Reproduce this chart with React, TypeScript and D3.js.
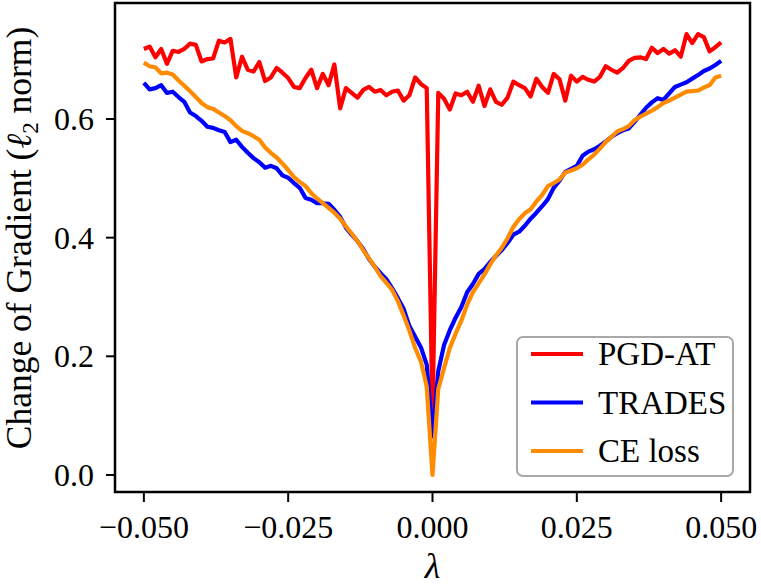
import * as d3 from 'd3';

// lambda grid: -0.050 .. 0.050, step 0.001 (101 points)
const lambdas: number[] = d3.range(101).map(i => +(-0.05 + i * 0.001).toFixed(3));

const pgdAT: number[] = [
  0.718, 0.722, 0.704, 0.718, 0.693, 0.715, 0.713, 0.718, 0.727, 0.725,
  0.697, 0.701, 0.702, 0.732, 0.729, 0.735, 0.670, 0.705, 0.683, 0.680,
  0.696, 0.664, 0.670, 0.686, 0.678, 0.669, 0.654, 0.652, 0.669, 0.683,
  0.652, 0.676, 0.657, 0.692, 0.618, 0.652, 0.644, 0.636, 0.649, 0.654,
  0.646, 0.649, 0.640, 0.646, 0.648, 0.631, 0.640, 0.670, 0.659, 0.652,
  0.100,
  0.644, 0.634, 0.616, 0.643, 0.640, 0.646, 0.629, 0.656, 0.622, 0.650,
  0.629, 0.624, 0.636, 0.663, 0.657, 0.652, 0.638, 0.668, 0.654, 0.644,
  0.676, 0.667, 0.631, 0.673, 0.663, 0.671, 0.666, 0.663, 0.671, 0.689,
  0.683, 0.678, 0.686, 0.698, 0.703, 0.704, 0.701, 0.720, 0.711, 0.718,
  0.710, 0.716, 0.705, 0.743, 0.728, 0.743, 0.738, 0.714, 0.721, 0.729
];

const trades: number[] = [
  0.661, 0.650, 0.652, 0.657, 0.644, 0.646, 0.637, 0.629, 0.611, 0.605,
  0.597, 0.587, 0.585, 0.581, 0.578, 0.561, 0.565, 0.553, 0.543, 0.534,
  0.527, 0.518, 0.521, 0.517, 0.505, 0.501, 0.492, 0.484, 0.467, 0.464,
  0.458, 0.458, 0.457, 0.447, 0.435, 0.417, 0.405, 0.394, 0.381, 0.364,
  0.351, 0.340, 0.330, 0.315, 0.298, 0.280, 0.251, 0.233, 0.215, 0.186,
  0.065,
  0.175, 0.219, 0.244, 0.265, 0.283, 0.308, 0.322, 0.339, 0.347, 0.359,
  0.369, 0.379, 0.391, 0.405, 0.410, 0.420, 0.432, 0.442, 0.453, 0.465,
  0.484, 0.496, 0.511, 0.516, 0.521, 0.538, 0.545, 0.549, 0.555, 0.562,
  0.570, 0.576, 0.581, 0.584, 0.595, 0.607, 0.619, 0.628, 0.635, 0.632,
  0.643, 0.654, 0.658, 0.662, 0.668, 0.674, 0.681, 0.685, 0.691, 0.698
];

const ceLoss: number[] = [
  0.695, 0.689, 0.687, 0.677, 0.678, 0.675, 0.665, 0.656, 0.647, 0.637,
  0.627, 0.620, 0.617, 0.611, 0.605, 0.598, 0.588, 0.580, 0.576, 0.571,
  0.565, 0.552, 0.543, 0.535, 0.525, 0.514, 0.502, 0.494, 0.487, 0.475,
  0.466, 0.458, 0.450, 0.442, 0.432, 0.419, 0.407, 0.394, 0.379, 0.365,
  0.351, 0.335, 0.324, 0.312, 0.293, 0.269, 0.243, 0.214, 0.191, 0.149,
  0.000,
  0.145, 0.180, 0.214, 0.238, 0.260, 0.287, 0.308, 0.323, 0.338, 0.355,
  0.370, 0.383, 0.399, 0.418, 0.431, 0.441, 0.448, 0.461, 0.472, 0.487,
  0.492, 0.498, 0.510, 0.513, 0.517, 0.523, 0.532, 0.540, 0.550, 0.561,
  0.570, 0.579, 0.583, 0.588, 0.598, 0.604, 0.609, 0.614, 0.620, 0.627,
  0.631, 0.636, 0.641, 0.646, 0.647, 0.648, 0.653, 0.657, 0.670, 0.673
];

const seriesNames = ['PGD-AT', 'TRADES', 'CE loss'];
const seriesColors = ['#ff0000', '#0000ff', '#ff8c00'];
const seriesValues = [pgdAT, trades, ceLoss];

const xTicks = [-0.05, -0.025, 0, 0.025, 0.05];
const xTickLabels = ['\u22120.050', '\u22120.025', '0.000', '0.025', '0.050'];
const yTicks = [0, 0.2, 0.4, 0.6];
const yTickLabels = ['0.0', '0.2', '0.4', '0.6'];

const serif = (size: number, italic = false) => ({
  fontFamily: "'Liberation Serif'",
  fontSize: `${size}px`,
  fontStyle: italic ? 'italic' : 'normal',
});

export default function App() {
  const width = 761;
  const height = 585;
  const left = 115, right = 750, top = 3, bottom = 492;

  const x = d3.scaleLinear().domain([-0.055, 0.055]).range([left, right]);
  const y = d3.scaleLinear().domain([-0.0287, 0.7955]).range([bottom, top]);

  const line = d3.line<number>()
    .x((_, i) => x(lambdas[i]))
    .y(d => y(d));

  const legendY = [354, 402.5, 451];

  return (
    <div style={{ position: 'absolute', left: 0, top: 0, width, height, background: '#fff' }}>
      <svg width={width} height={height}>
        {/* series */}
        {seriesValues.map((vals, k) => (
          <path
            key={seriesNames[k]}
            d={line(vals) ?? ''}
            fill="none"
            stroke={seriesColors[k]}
            strokeWidth={4.2}
            strokeLinejoin="round"
          />
        ))}

        {/* frame */}
        <rect
          x={left}
          y={top}
          width={right - left}
          height={bottom - top}
          fill="none"
          stroke="#000"
          strokeWidth={2.5}
        />

        {/* x axis */}
        {xTicks.map((t, i) => (
          <g key={t} transform={`translate(${x(t)},${bottom})`}>
            <line y1={0} y2={10} stroke="#000" strokeWidth={2} />
            <text y={46} textAnchor="middle" style={serif(32)}>
              {xTickLabels[i]}
            </text>
          </g>
        ))}

        {/* y axis */}
        {yTicks.map((t, i) => (
          <g key={t} transform={`translate(${left},${y(t)})`}>
            <line x1={0} x2={-9} stroke="#000" strokeWidth={2} />
            <text x={-21} y={11} textAnchor="end" style={serif(32)}>
              {yTickLabels[i]}
            </text>
          </g>
        ))}

        {/* axis labels */}
        <text x={(left + right) / 2} y={578} textAnchor="middle" style={serif(36, true)}>
          {'\u03bb'}
        </text>
        <text
          transform="translate(31,238) rotate(-90)"
          textAnchor="middle"
          style={serif(35.5)}
        >
          Change of Gradient (<tspan style={serif(35.5, true)}>{'\u2113'}</tspan>
          <tspan dy={7} style={serif(23)}>2</tspan>
          <tspan dy={-7}>{'\u00a0norm)'}</tspan>
        </text>

        {/* legend */}
        <rect
          x={517}
          y={337}
          width={216}
          height={139}
          rx={6}
          fill="#fff"
          fillOpacity={0.8}
          stroke="#a8a8a8"
          strokeWidth={2}
        />
        {seriesNames.map((name, k) => (
          <g key={name}>
            <line
              x1={531}
              x2={583}
              y1={legendY[k]}
              y2={legendY[k]}
              stroke={seriesColors[k]}
              strokeWidth={4.2}
            />
            <text x={598} y={legendY[k] + 11} style={serif(33)}>
              {name}
            </text>
          </g>
        ))}
      </svg>
    </div>
  );
}
